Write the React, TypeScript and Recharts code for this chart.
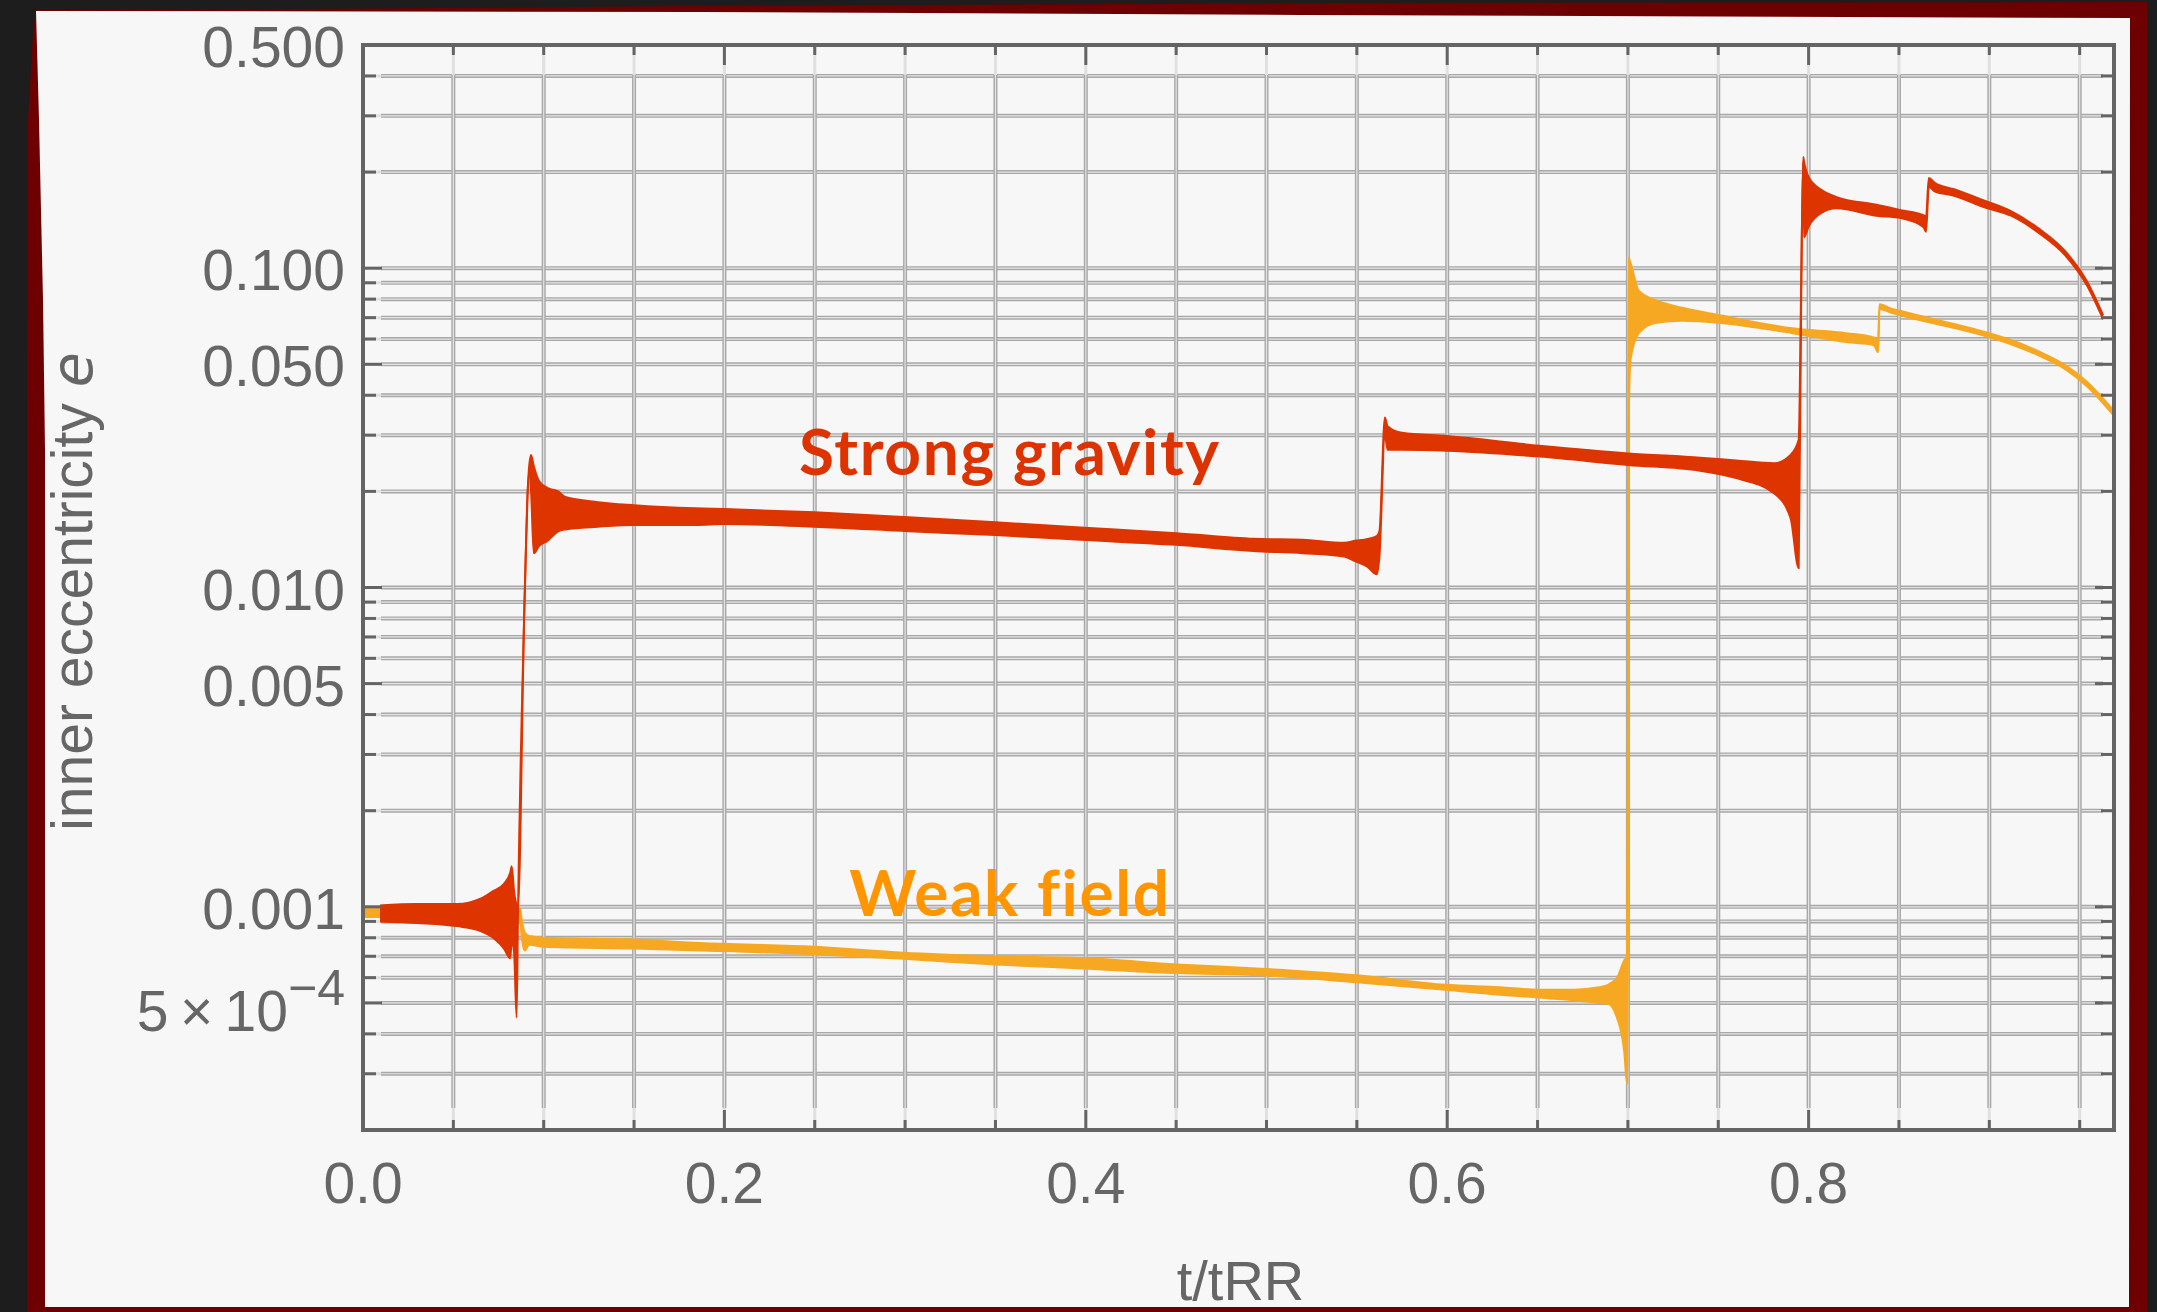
import React from 'react';
import { ComposedChart, Area, XAxis, YAxis, CartesianGrid, ReferenceDot } from 'recharts';

// ---- canvas & plot frame ----
const WIDTH = 2157;
const HEIGHT = 1312;
const PLOT_LEFT = 363;
const PLOT_RIGHT = 2114;
const PLOT_TOP = 45;
const PLOT_BOTTOM = 1130;

// ---- axes ----
const T_MAX = 0.969;
const X_TICKS = [0, 0.05, 0.1, 0.15, 0.2, 0.25, 0.3, 0.35, 0.4, 0.45, 0.5, 0.55, 0.6, 0.65, 0.7, 0.75, 0.8, 0.85, 0.9, 0.95];
const X_LABEL_VALUES = [0, 0.2, 0.4, 0.6, 0.8];
const X_LABEL_TEXT = ['0.0', '0.2', '0.4', '0.6', '0.8'];

const E_MIN = 0.0002;
const E_MAX = 0.5;
const Y_TICKS = [
  0.5, 0.4, 0.3, 0.2,
  0.1, 0.09, 0.08, 0.07, 0.06, 0.05, 0.04, 0.03, 0.02,
  0.01, 0.009, 0.008, 0.007, 0.006, 0.005, 0.004, 0.003, 0.002,
  0.001, 0.0009, 0.0008, 0.0007, 0.0006, 0.0005, 0.0004, 0.0003, 0.0002,
];
const Y_LABEL_VALUES = [0.5, 0.1, 0.05, 0.01, 0.005, 0.001, 0.0005];
const Y_LABEL_TEXT = ['0.500', '0.100', '0.050', '0.010', '0.005', '0.001', '5\u2009×\u200910'];
const Y_LABEL_EXP = ['', '', '', '', '', '', '−4'];

const X_TITLE = 't/tRR';
const Y_TITLE = 'inner eccentricity ';
const Y_TITLE_SYMBOL = 'e';

// ---- series: oscillation envelope (lower, upper) of the inner eccentricity ----
const strongT = [
  0.0094, 0.03, 0.052, 0.065, 0.072, 0.078, 0.0815, 0.0823, 0.0836, 0.085, 0.0858,
  0.0894, 0.0918, 0.093, 0.0945, 0.0975, 0.102, 0.108, 0.112, 0.13, 0.15, 0.184, 0.2,
  0.25, 0.302, 0.35, 0.397, 0.45, 0.493, 0.52, 0.543, 0.549, 0.556, 0.561, 0.5625,
  0.5655, 0.567, 0.575, 0.6, 0.651, 0.7, 0.74, 0.76, 0.781, 0.79, 0.7945,
  0.796, 0.797, 0.7975, 0.8, 0.807, 0.8155, 0.8375, 0.851, 0.8635, 0.865,
  0.8665, 0.87, 0.88, 0.897, 0.912, 0.927, 0.942, 0.954, 0.963,
];
const strongLo = [
  0.0009, 0.00089, 0.00087, 0.00084, 0.0008, 0.00074, 0.00069, 0.00078, 0.00072, 0.00045, 0.00098,
  0.0089, 0.0228, 0.02, 0.0128, 0.0135, 0.014, 0.015, 0.0152, 0.0155, 0.0157, 0.0157, 0.0158,
  0.0155, 0.015, 0.0146, 0.0141, 0.0136, 0.013, 0.0128, 0.0125, 0.0121, 0.0116, 0.011, 0.0125,
  0.03, 0.027, 0.027, 0.0268, 0.0257, 0.0242, 0.0232, 0.022, 0.0197, 0.0165, 0.0115,
  0.095, 0.215, 0.125, 0.135, 0.149, 0.154, 0.146, 0.1435, 0.1345, 0.13,
  0.18, 0.1737, 0.169, 0.1553, 0.146, 0.1295, 0.1098, 0.0884, 0.0692,
];
const strongHi = [
  0.00101, 0.00102, 0.00102, 0.00106, 0.00112, 0.00118, 0.00128, 0.00134, 0.00112, 0.00102, 0.00101,
  0.0092, 0.0234, 0.026, 0.024, 0.0215, 0.0205, 0.02, 0.0192, 0.0185, 0.0181, 0.0177, 0.0176,
  0.0172, 0.0166, 0.016, 0.0154, 0.0148, 0.0142, 0.0141, 0.0138, 0.014, 0.0142, 0.0145, 0.015,
  0.0341, 0.032, 0.0305, 0.0298, 0.0278, 0.0263, 0.0255, 0.025, 0.0245, 0.026, 0.029,
  0.1, 0.223, 0.215, 0.193, 0.176, 0.167, 0.158, 0.152, 0.1466, 0.145,
  0.1915, 0.1848, 0.177, 0.163, 0.151, 0.1335, 0.113, 0.091, 0.0712,
];

const weakT = [
  0, 0.086, 0.087, 0.088, 0.0895, 0.092, 0.1, 0.15, 0.1865, 0.25, 0.299, 0.35, 0.401,
  0.45, 0.497, 0.55, 0.599, 0.629, 0.651, 0.67, 0.684, 0.689, 0.694, 0.698, 0.6995,
  0.7, 0.7003, 0.7015, 0.706, 0.715, 0.73, 0.7515, 0.791, 0.821, 0.836, 0.8385,
  0.8392, 0.845, 0.851, 0.896, 0.912, 0.927, 0.942, 0.954, 0.969,
];
const weakLo = [
  0.00093, 0.00093, 0.0009, 0.00079, 0.00073, 0.00076, 0.00075, 0.00074, 0.00073, 0.00071, 0.000687, 0.00066, 0.00064,
  0.00062, 0.00061, 0.00058, 0.00055, 0.00053, 0.00052, 0.00051, 0.0005, 0.000497, 0.000449, 0.00035, 0.00028,
  0.0007, 0.03, 0.052, 0.0626, 0.0674, 0.0685, 0.0674, 0.0626, 0.0587, 0.0575, 0.0545,
  0.0745, 0.0728, 0.0712, 0.0617, 0.0578, 0.0534, 0.0483, 0.0427, 0.0345,
];
const weakHi = [
  0.00099, 0.00099, 0.00098, 0.0009, 0.00083, 0.00081, 0.0008, 0.00079, 0.00077, 0.00075, 0.000718, 0.0007, 0.00069,
  0.00066, 0.00064, 0.00061, 0.00057, 0.00056, 0.00055, 0.00055, 0.00056, 0.00057, 0.0006, 0.00068, 0.0007,
  0.004, 0.108, 0.1035, 0.085, 0.0795, 0.0752, 0.0711, 0.0648, 0.0626, 0.0607, 0.06,
  0.0771, 0.075, 0.0734, 0.0635, 0.0596, 0.055, 0.0497, 0.0441, 0.0357,
];

const STRONG_COLOR = '#dd3400';
const WEAK_COLOR = '#f7a823';

// ---- annotations ----
const ANNOTATIONS = [
  { text: 'Strong gravity', t: 0.358, e: 0.02244, color: '#dd3300' },
  { text: 'Weak field', t: 0.358, e: 0.000937, color: '#ff9500' },
];

const strongData = strongT.map((t, i) => ({ t, band: [strongLo[i], strongHi[i]] }));
const weakData = weakT.map((t, i) => ({ t, band: [weakLo[i], weakHi[i]] }));

const AXIS_COLOR = '#646464';
const LABEL_COLOR = '#666666';
const LABEL_FONT = '"Liberation Sans", Arial, Helvetica, sans-serif';
const LABEL_SIZE = 57;

const findIndex = (arr: number[], v: number) =>
  arr.findIndex((L) => (L === 0 ? Math.abs(v) < 1e-9 : Math.abs(v / L - 1) < 1e-6));

// ---- tick renderers (ticks point into the frame) ----
function LeftTick(props: any) {
  const { x, y, payload } = props;
  const idx = findIndex(Y_LABEL_VALUES, payload.value);
  const len = idx >= 0 ? 19 : 13;
  const sci = idx >= 0 && Y_LABEL_EXP[idx] !== '';
  return (
    <g>
      <line x1={x} y1={y} x2={x + len} y2={y} stroke={AXIS_COLOR} strokeWidth={3} />
      {idx >= 0 && (
        <text
          x={x - 18}
          y={y + (sci ? 28 : 22)}
          textAnchor="end"
          fill={LABEL_COLOR}
          fontFamily={LABEL_FONT}
          fontSize={LABEL_SIZE}
        >
          <tspan>{Y_LABEL_TEXT[idx]}</tspan>
          {sci && (
            <tspan dy={-26} fontSize={50}>
              {Y_LABEL_EXP[idx]}
            </tspan>
          )}
        </text>
      )}
    </g>
  );
}

function RightTick(props: any) {
  const { x, y, payload } = props;
  const len = findIndex(Y_LABEL_VALUES, payload.value) >= 0 ? 19 : 13;
  return <line x1={x} y1={y} x2={x - len} y2={y} stroke={AXIS_COLOR} strokeWidth={3} />;
}

function BottomTick(props: any) {
  const { x, y, payload } = props;
  const idx = findIndex(X_LABEL_VALUES, payload.value);
  const len = idx >= 0 ? 20 : 10;
  return (
    <g>
      <line x1={x} y1={y} x2={x} y2={y - len} stroke={AXIS_COLOR} strokeWidth={3} />
      {idx >= 0 && (
        <text x={x} y={y + 73} textAnchor="middle" fill={LABEL_COLOR} fontFamily={LABEL_FONT} fontSize={LABEL_SIZE}>
          {X_LABEL_TEXT[idx]}
        </text>
      )}
    </g>
  );
}

function TopTick(props: any) {
  const { x, y, payload } = props;
  const len = findIndex(X_LABEL_VALUES, payload.value) >= 0 ? 20 : 10;
  return <line x1={x} y1={y} x2={x} y2={y + len} stroke={AXIS_COLOR} strokeWidth={3} />;
}

// ---- grid lines: doubled grey strokes, fading near the frame ----
const GRID_INSET = { left: 18, right: 11, top: 30, bottom: 22 };

function HGrid(p: any) {
  const { x1, x2, y1 } = p;
  if (y1 <= PLOT_TOP + 1 || y1 >= PLOT_BOTTOM - 1) return <g key={p.key} />;
  const solid = y1 >= PLOT_TOP + GRID_INSET.top && y1 <= PLOT_BOTTOM - GRID_INSET.bottom;
  return (
    <g key={p.key}>
      <line x1={x1} x2={x2} y1={y1} y2={y1} stroke="#e0e0e0" strokeWidth={3} />
      {solid && (
        <>
          <line x1={x1 + GRID_INSET.left} x2={x2 - GRID_INSET.right} y1={y1} y2={y1} stroke="#a8a8a8" strokeWidth={4} />
          <line x1={x1 + GRID_INSET.left} x2={x2 - GRID_INSET.right} y1={y1} y2={y1} stroke="#e4e4e4" strokeWidth={1.2} />
        </>
      )}
    </g>
  );
}

function VGrid(p: any) {
  const { x1, y1, y2 } = p;
  if (x1 <= PLOT_LEFT + 1 || x1 >= PLOT_RIGHT - 1) return <g key={p.key} />;
  return (
    <g key={p.key}>
      <line x1={x1} x2={x1} y1={y1} y2={y2} stroke="#e0e0e0" strokeWidth={3} />
      <line x1={x1} x2={x1} y1={y1 + GRID_INSET.top} y2={y2 - GRID_INSET.bottom} stroke="#a8a8a8" strokeWidth={4} />
      <line x1={x1} x2={x1} y1={y1 + GRID_INSET.top} y2={y2 - GRID_INSET.bottom} stroke="#e4e4e4" strokeWidth={1.2} />
    </g>
  );
}

// ---- axis titles ----
function YTitle(props: any) {
  const vb = props.viewBox;
  const cx = vb.x + 72;
  const cy = vb.y + vb.height / 2 + 4;
  return (
    <text
      x={cx}
      y={cy}
      transform={`rotate(-90 ${cx} ${cy})`}
      textAnchor="middle"
      dominantBaseline="central"
      fill={LABEL_COLOR}
      fontFamily={LABEL_FONT}
      fontSize={LABEL_SIZE}
    >
      {Y_TITLE}
      <tspan fontStyle="italic" fontFamily='"DejaVu Sans", "Liberation Sans", sans-serif'>{Y_TITLE_SYMBOL}</tspan>
    </text>
  );
}

function XTitle(props: any) {
  const vb = props.viewBox;
  return (
    <text
      x={vb.x + vb.width / 2 + 2}
      y={vb.y + 170}
      textAnchor="middle"
      fill={LABEL_COLOR}
      fontFamily={LABEL_FONT}
      fontSize={56}
    >
      {X_TITLE}
    </text>
  );
}

function Annotation(props: any, text: string, color: string) {
  return (
    <text
      x={props.cx}
      y={props.cy}
      textAnchor="middle"
      fill={color}
      fontFamily='Lato, "Open Sans", sans-serif'
      fontWeight={700}
      fontSize={64}
      letterSpacing={1.6}
    >
      {text}
    </text>
  );
}

export default function App() {
  return (
    <div style={{ position: 'absolute', left: 0, top: 0, width: WIDTH, height: HEIGHT, background: '#1d1d1d', overflow: 'hidden' }}>
      <svg width={WIDTH} height={HEIGHT} style={{ position: 'absolute', left: 0, top: 0 }}>
        <polygon fill="#6d0000" points="27,1312 27,400 28,120 33,32 36,10 300,9 700,6 1300,3 2147,2 2147,1312" />
        <polygon fill="#f7f7f7" points="36,11 700,12 1300,15 2130,18 2129,1307 45,1307 45,450 43,300 39,120" />
      </svg>
      <div style={{ position: 'absolute', left: 0, top: 0 }}>
        <ComposedChart
          width={WIDTH}
          height={HEIGHT}
          margin={{ top: 0, right: 0, bottom: 0, left: 0 }}
        >
          <CartesianGrid xAxisId="bottom" yAxisId="left" fill="none" horizontal={HGrid} vertical={VGrid} />
          <XAxis
            xAxisId="bottom"
            orientation="bottom"
            type="number"
            dataKey="t"
            domain={[0, T_MAX]}
            allowDataOverflow
            ticks={X_TICKS}
            interval={0}
            height={HEIGHT - PLOT_BOTTOM}
            tickLine={false}
            tickSize={0}
            tickMargin={0}
            tick={BottomTick}
            axisLine={{ stroke: AXIS_COLOR, strokeWidth: 4, strokeLinecap: 'square' }}
            label={{ content: XTitle }}
          />
          <XAxis
            xAxisId="top"
            orientation="top"
            type="number"
            dataKey="t"
            domain={[0, T_MAX]}
            allowDataOverflow
            ticks={X_TICKS}
            interval={0}
            height={PLOT_TOP}
            tickLine={false}
            tickSize={0}
            tickMargin={0}
            tick={TopTick}
            axisLine={{ stroke: AXIS_COLOR, strokeWidth: 4, strokeLinecap: 'square' }}
          />
          <YAxis
            yAxisId="left"
            orientation="left"
            type="number"
            scale="log"
            domain={[E_MIN, E_MAX]}
            allowDataOverflow
            ticks={Y_TICKS}
            interval={0}
            width={PLOT_LEFT}
            tickLine={false}
            tickSize={0}
            tickMargin={0}
            tick={LeftTick}
            axisLine={{ stroke: AXIS_COLOR, strokeWidth: 4, strokeLinecap: 'square' }}
            label={{ content: YTitle }}
          />
          <YAxis
            yAxisId="right"
            orientation="right"
            type="number"
            scale="log"
            domain={[E_MIN, E_MAX]}
            allowDataOverflow
            ticks={Y_TICKS}
            interval={0}
            width={WIDTH - PLOT_RIGHT}
            tickLine={false}
            tickSize={0}
            tickMargin={0}
            tick={RightTick}
            axisLine={{ stroke: AXIS_COLOR, strokeWidth: 4, strokeLinecap: 'square' }}
          />
          <Area
            xAxisId="bottom"
            yAxisId="left"
            data={weakData}
            dataKey="band"
            type="monotoneX"
            stroke={WEAK_COLOR}
            strokeWidth={2}
            fill={WEAK_COLOR}
            fillOpacity={1}
            dot={false}
            activeDot={false}
            isAnimationActive={false}
          />
          <Area
            xAxisId="bottom"
            yAxisId="left"
            data={strongData}
            dataKey="band"
            type="monotoneX"
            stroke={STRONG_COLOR}
            strokeWidth={2}
            fill={STRONG_COLOR}
            fillOpacity={1}
            dot={false}
            activeDot={false}
            isAnimationActive={false}
          />
          {ANNOTATIONS.map((a) => (
            <ReferenceDot
              key={a.text}
              xAxisId="bottom"
              yAxisId="left"
              x={a.t}
              y={a.e}
              r={0}
              shape={(p: any) => Annotation(p, a.text, a.color)}
            />
          ))}
        </ComposedChart>
      </div>
    </div>
  );
}
